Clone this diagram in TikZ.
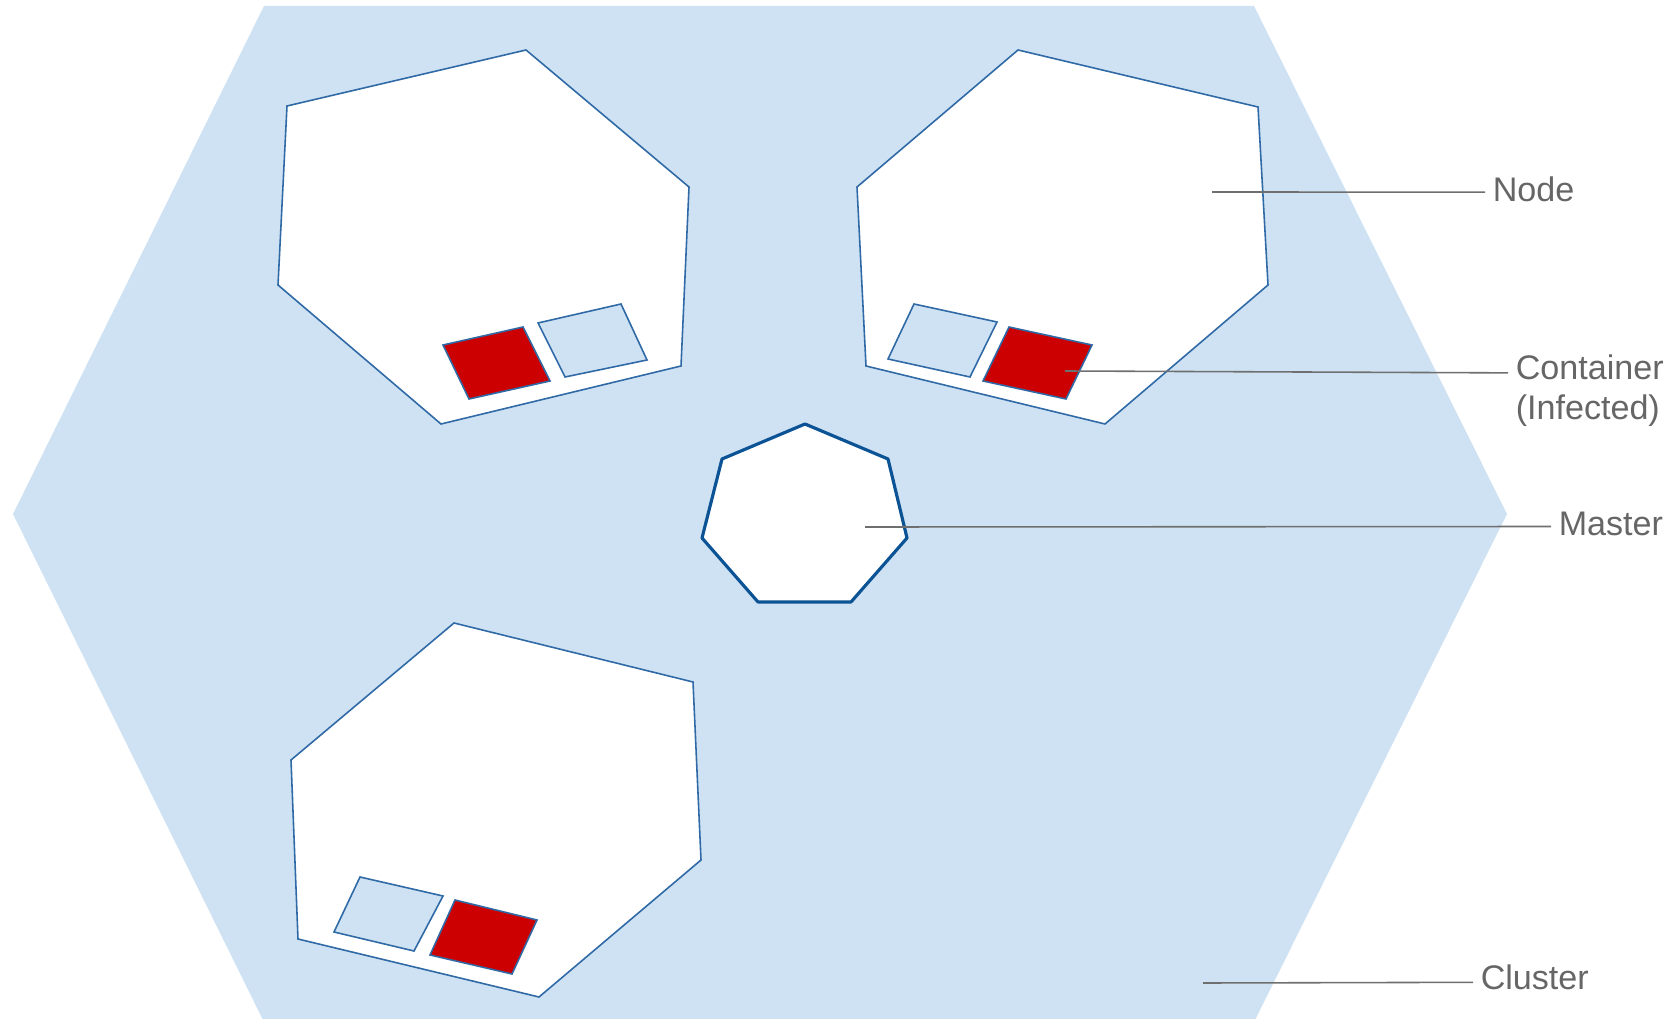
\documentclass[tikz,border=0pt]{standalone}
\usepackage{fontspec}
\setmainfont{Liberation Sans}

\definecolor{clusterblue}{HTML}{CFE2F3}
\definecolor{nodeblue}{HTML}{2F69A6}
\definecolor{masterblue}{HTML}{0B5394}
\definecolor{infected}{HTML}{CC0000}
\definecolor{labelgray}{HTML}{666666}
\definecolor{leadgray}{HTML}{6F6F6F}

\begin{document}
\begin{tikzpicture}[
        x=0.01cm, y=-0.01cm,
        font=\fontsize{9.7}{11.5}\selectfont,
        cluster/.style={fill=clusterblue, draw=none},
        knode/.style={fill=white, draw=nodeblue, line width=0.45pt},
        master/.style={fill=white, draw=masterblue, line width=0.9pt,
                       line join=round},
        cbox/.style={draw=nodeblue, line width=0.45pt},
        clean/.style={cbox, fill=clusterblue},
        sick/.style={cbox, fill=infected},
        leader/.style={draw=leadgray, line width=0.45pt},
        lbl/.style={anchor=base west, inner xsep=2pt, inner ysep=0pt,
                    text=labelgray, align=left},
    ]

    \useasboundingbox (0,0) rectangle (1676,1019);

    % cluster
    \fill[cluster] (264,6) -- (1254,6) -- (1507,514) -- (1254,1022)
        -- (264,1022) -- (13,514) -- cycle;

    % worker nodes
    \filldraw[knode] (526,50) -- (689,187) -- (681,366) -- (441,424)
        -- (278,285) -- (287,106) -- cycle;
    \filldraw[knode] (1018,50) -- (1258,107) -- (1268,285) -- (1105,424)
        -- (866,366) -- (857,187) -- cycle;
    \filldraw[knode] (454,623) -- (693,682) -- (701,860) -- (539,997)
        -- (298,939) -- (291,760) -- cycle;

    % containers
    \filldraw[sick]  (443,345) -- (523,327) -- (550,381) -- (469,399) -- cycle;
    \filldraw[clean] (538,323) -- (621,304) -- (647,360) -- (565,377) -- cycle;

    \filldraw[clean] (914,304) -- (997,322) -- (970,377) -- (888,359) -- cycle;
    \filldraw[sick]  (1009,327) -- (1092,345) -- (1066,399) -- (983,381) -- cycle;

    \filldraw[clean] (360,877) -- (443,896) -- (414,951) -- (334,932) -- cycle;
    \filldraw[sick]  (455,900) -- (537,920) -- (512,974) -- (430,955) -- cycle;

    % master
    \filldraw[master] (805,424) -- (888,459) -- (907,538) -- (851,602)
        -- (758,602) -- (702,538) -- (722,459) -- cycle;

    % labels (base of a two-line label is its last line)
    \coordinate (nodept)  at (1212,192);
    \coordinate (infpt)   at (1065,371);
    \coordinate (mastpt)  at (865,527);
    \coordinate (clustpt) at (1203,983);

    \node[lbl] (nodelbl)  at (1485,202) {Node};
    \node[lbl] (inflbl)   at (1508,420) {Container\\(Infected)};
    \node[lbl] (mastlbl)  at (1551,536) {Master};
    \node[lbl] (clustlbl) at (1473,989) {Cluster};

    \draw[leader] (nodept)  -- ([yshift=2.8pt]nodelbl.base west);
    \draw[leader] (infpt)   -- ([yshift=13.4pt]inflbl.base west);
    \draw[leader] (mastpt)  -- ([yshift=2.7pt]mastlbl.base west);
    \draw[leader] (clustpt) -- ([yshift=1.9pt]clustlbl.base west);

    \end{tikzpicture}
\end{document}
